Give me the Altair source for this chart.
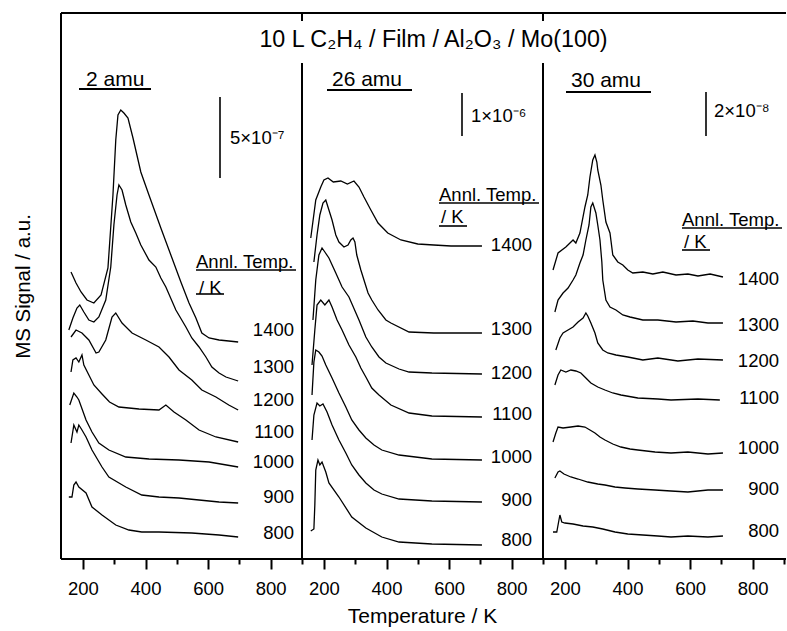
import altair as alt
import pandas as pd

FONT = "Liberation Sans"
ANNEAL = ["1400", "1300", "1200", "1100", "1000", "900", "800"]
MASSES = ["2 amu", "26 amu", "30 amu"]
TITLE = "10 L C₂H₄ / Film / Al₂O₃ / Mo(100)"
SCALE_TEXT = ["5×10⁻⁷", "1×10⁻⁶", "2×10⁻⁸"]
SCALE_TOP = [462, 466, 467]
SCALE_BOTTOM = [381, 423, 423]
X_TICKS = [200, 300, 400, 500, 600, 700, 800, 900]

# ---------------- 2 amu ----------------
A2_1400_T = [162, 178, 194, 213, 235, 258, 280, 296, 305, 312, 321, 331, 344, 360, 385, 411, 449, 481, 513, 539, 561, 580, 603, 635, 666, 696]
A2_1400_V = [287, 276, 267, 259, 256, 264, 291, 364, 419, 444, 449, 446, 441, 421, 387, 364, 331, 304, 277, 256, 241, 226, 221, 219, 218, 217]
A2_1300_T = [155, 168, 181, 190, 203, 219, 235, 251, 273, 289, 299, 309, 315, 325, 337, 353, 369, 385, 411, 433, 449, 465, 497, 529, 548, 571, 593, 612, 635, 657, 696]
A2_1300_V = [229, 241, 251, 254, 247, 239, 237, 242, 259, 292, 334, 364, 374, 369, 354, 337, 326, 314, 299, 292, 281, 272, 249, 232, 221, 212, 202, 192, 186, 182, 178]
A2_1200_T = [162, 178, 197, 219, 242, 251, 273, 293, 305, 325, 357, 401, 443, 475, 507, 548, 580, 625, 666, 696]
A2_1200_V = [222, 229, 226, 219, 206, 207, 219, 242, 246, 236, 226, 219, 212, 202, 189, 179, 169, 162, 154, 149]
A2_1100_T = [162, 168, 178, 187, 197, 203, 219, 235, 261, 285, 315, 379, 443, 465, 491, 529, 571, 625, 696]
A2_1100_V = [187, 199, 201, 197, 204, 194, 184, 174, 165, 157, 152, 150, 149, 154, 147, 139, 129, 122, 117]
A2_1000_T = [158, 171, 181, 187, 210, 229, 251, 283, 337, 411, 507, 603, 696]
A2_1000_V = [154, 166, 162, 159, 139, 127, 116, 109, 102, 100, 99, 97, 92]
A2_900_T = [162, 171, 181, 187, 197, 210, 229, 261, 283, 337, 388, 443, 507, 571, 635, 696]
A2_900_V = [116, 134, 127, 134, 129, 122, 109, 92, 82, 72, 64, 62, 61, 59, 57, 56]
A2_800_T = [155, 165, 171, 178, 187, 210, 229, 261, 305, 347, 388, 443, 548, 635, 696]
A2_800_V = [62, 62, 74, 77, 72, 66, 52, 44, 34, 29, 27, 27, 26, 24, 22]
A2_LABEL = [229, 192, 159, 127, 97, 62, 26]

# ---------------- 26 amu ----------------
A26_1400_T = [158, 174, 190, 200, 213, 230, 254, 275, 296, 312, 328, 350, 373, 404, 446, 500, 551, 606, 705]
A26_1400_V = [321, 359, 372, 379, 381, 377, 378, 375, 378, 372, 362, 349, 336, 326, 319, 315, 314, 313, 313]
A26_1300_T = [168, 178, 187, 197, 206, 216, 226, 238, 248, 264, 277, 286, 293, 299, 305, 318, 341, 353, 373, 398, 414, 472, 551, 705]
A26_1300_V = [297, 324, 344, 356, 359, 349, 339, 324, 317, 312, 314, 319, 321, 317, 304, 289, 266, 259, 249, 239, 236, 227, 226, 226]
A26_1200_T = [165, 174, 184, 194, 203, 216, 238, 258, 280, 312, 334, 353, 376, 398, 440, 472, 545, 705]
A26_1200_V = [239, 279, 304, 311, 307, 301, 286, 272, 262, 239, 222, 212, 202, 196, 190, 187, 186, 185]
A26_1100_T = [162, 171, 178, 190, 203, 216, 226, 242, 258, 280, 302, 318, 334, 353, 376, 414, 472, 545, 705]
A26_1100_V = [194, 229, 254, 259, 254, 259, 252, 239, 229, 214, 202, 191, 182, 171, 164, 154, 146, 143, 142]
A26_1000_T = [162, 168, 174, 184, 194, 206, 226, 248, 270, 289, 312, 334, 360, 385, 440, 545, 705]
A26_1000_V = [164, 197, 209, 207, 203, 194, 181, 166, 152, 139, 129, 121, 114, 109, 104, 100, 99]
A26_900_T = [162, 168, 178, 187, 197, 210, 226, 248, 270, 289, 312, 334, 360, 385, 440, 545, 705]
A26_900_V = [119, 144, 156, 153, 155, 147, 134, 119, 106, 94, 84, 76, 69, 65, 60, 58, 57]
A26_800_T = [158, 168, 171, 174, 181, 187, 194, 206, 216, 248, 289, 334, 385, 440, 545, 705]
A26_800_V = [28, 30, 54, 89, 99, 94, 97, 87, 76, 62, 42, 31, 22, 17, 15, 14]
A26_LABEL = [314, 230, 186, 145, 102, 59, 19]

# ---------------- 30 amu ----------------
A30_1400_T = [162, 178, 203, 226, 235, 248, 264, 273, 280, 289, 296, 302, 305, 315, 321, 331, 344, 353, 369, 385, 401, 417, 449, 481, 513, 555, 593, 625, 664, 705]
A30_1400_V = [289, 306, 312, 319, 316, 326, 352, 364, 382, 399, 404, 397, 389, 374, 359, 337, 326, 304, 297, 294, 289, 286, 287, 285, 287, 284, 285, 283, 285, 282]
A30_1300_T = [168, 178, 194, 210, 226, 235, 248, 258, 267, 277, 283, 289, 296, 299, 305, 312, 318, 321, 331, 344, 363, 385, 408, 449, 497, 555, 609, 657, 705]
A30_1300_V = [247, 259, 266, 271, 279, 284, 296, 304, 319, 334, 352, 356, 349, 346, 334, 319, 297, 279, 259, 252, 249, 244, 242, 239, 239, 237, 238, 236, 236]
A30_1200_T = [171, 184, 194, 210, 226, 242, 258, 267, 273, 283, 296, 305, 321, 337, 363, 401, 449, 497, 561, 625, 705]
A30_1200_V = [209, 221, 226, 229, 232, 237, 241, 246, 243, 236, 226, 216, 209, 206, 204, 202, 199, 201, 198, 200, 199]
A30_1100_T = [168, 178, 187, 203, 219, 235, 251, 267, 283, 305, 328, 353, 379, 433, 497, 539, 625, 695]
A30_1100_V = [174, 184, 189, 187, 189, 188, 186, 181, 176, 172, 169, 166, 164, 161, 160, 159, 160, 159]
A30_1000_T = [162, 171, 178, 194, 219, 242, 264, 280, 296, 312, 328, 353, 379, 408, 433, 488, 539, 593, 657, 705]
A30_1000_V = [117, 126, 132, 131, 132, 133, 132, 129, 126, 122, 119, 115, 112, 110, 109, 107, 106, 107, 105, 106]
A30_900_T = [168, 178, 184, 197, 219, 242, 273, 305, 328, 360, 392, 433, 488, 539, 593, 657, 705]
A30_900_V = [81, 87, 88, 85, 82, 80, 77, 75, 74, 72, 71, 70, 69, 68, 67, 69, 69]
A30_800_T = [162, 174, 181, 184, 190, 200, 226, 258, 289, 321, 360, 401, 449, 497, 539, 593, 657, 705]
A30_800_V = [27, 27, 39, 44, 37, 36, 35, 33, 32, 30, 27, 25, 24, 23, 22, 23, 22, 23]
A30_LABEL = [280, 234, 198, 161, 111, 70, 28]

CURVES = [
    [(A2_1400_T, A2_1400_V), (A2_1300_T, A2_1300_V), (A2_1200_T, A2_1200_V), (A2_1100_T, A2_1100_V),
     (A2_1000_T, A2_1000_V), (A2_900_T, A2_900_V), (A2_800_T, A2_800_V)],
    [(A26_1400_T, A26_1400_V), (A26_1300_T, A26_1300_V), (A26_1200_T, A26_1200_V), (A26_1100_T, A26_1100_V),
     (A26_1000_T, A26_1000_V), (A26_900_T, A26_900_V), (A26_800_T, A26_800_V)],
    [(A30_1400_T, A30_1400_V), (A30_1300_T, A30_1300_V), (A30_1200_T, A30_1200_V), (A30_1100_T, A30_1100_V),
     (A30_1000_T, A30_1000_V), (A30_900_T, A30_900_V), (A30_800_T, A30_800_V)],
]
LABELS = [A2_LABEL, A26_LABEL, A30_LABEL]

# ---------------- layout / style ----------------
W, H = 241, 546
LAYOUT = [
    dict(mass=(25, 67), mul=(18, 90, 76), bar=159, stext=(169, 125), annl=(135, 249), aul=(135, 235, 257),
         k=(138, 275), kul=(135, 163, 281), lbl=233),
    dict(mass=(30, 67), mul=(25, 110, 77), bar=160, stext=(169, 103), annl=(137, 182), aul=(137, 237, 190),
         k=(139, 204), kul=(137, 165, 213), lbl=230),
    dict(mass=(28, 68), mul=(23, 108, 79), bar=163, stext=(171, 98), annl=(139, 207), aul=(139, 239, 215),
         k=(141, 229), kul=(139, 167, 237), lbl=236),
]
ONE = pd.DataFrame({"k": [0]})


def txt(s, px, py, size, align="left"):
    return alt.Chart(ONE).mark_text(text=s, font=FONT, fontSize=size, align=align, baseline="middle",
                                    color="black").encode(x=alt.value(px), y=alt.value(py))


def hline(x1, x2, py, w=2.0):
    return alt.Chart(ONE).mark_rule(color="black", strokeWidth=w).encode(
        x=alt.value(x1), x2=alt.value(x2), y=alt.value(py))


def vline(px, y1, y2, w=2.0):
    return alt.Chart(ONE).mark_rule(color="black", strokeWidth=w).encode(
        x=alt.value(px), y=alt.value(y1), y2=alt.value(y2))


XS = alt.Scale(domain=[130, 900], nice=False, zero=False)
YS = alt.Scale(domain=[0, H], nice=False, zero=False)
X_AXIS = alt.Axis(
    values=X_TICKS,
    labelExpr="datum.value % 200 === 0 ? datum.label : ''",
    tickSize={"condition": {"test": "datum.value % 200 === 0", "value": 10}, "value": 5},
    tickWidth=2, tickColor="black", domain=False, grid=False,
    labelFont=FONT, labelFontSize=18.5, labelColor="black", labelPadding=10,
    labelOverlap=False, labelFlush=False,
)


def panel(i):
    rows = []
    for name, (ts, vs) in zip(ANNEAL, CURVES[i]):
        for j, (t, v) in enumerate(zip(ts, vs)):
            rows.append({"anneal": name, "i": j, "T": t, "v": v})
    df = pd.DataFrame(rows)
    if i == 0:
        yax = alt.Axis(title="MS Signal / a.u.", labels=False, ticks=False, domain=False, grid=False,
                       titleFont=FONT, titleFontSize=20.5, titleFontWeight="normal", titleColor="black",
                       titlePadding=28)
        ytitle = "MS Signal / a.u."
    else:
        yax = None
        ytitle = None
    Y = alt.Y("v:Q", scale=YS, axis=yax, title=ytitle)
    L = LAYOUT[i]

    lines = alt.Chart(df).mark_line(color="black", strokeWidth=1.3).encode(
        x=alt.X("T:Q", scale=XS, axis=X_AXIS, title=None), y=Y,
        detail="anneal:N", order="i:Q")

    lab_df = pd.DataFrame({"anneal": ANNEAL, "v": LABELS[i]})
    labels = alt.Chart(lab_df).mark_text(font=FONT, fontSize=18.5, align="right", baseline="middle",
                                         color="black").encode(
        x=alt.value(L["lbl"]), y=Y, text="anneal:N")

    bar_df = pd.DataFrame({"v": [SCALE_TOP[i]], "v2": [SCALE_BOTTOM[i]]})
    bar = alt.Chart(bar_df).mark_rule(color="black", strokeWidth=1.6).encode(
        x=alt.value(L["bar"]), y=Y, y2=alt.Y2("v2:Q", title=ytitle))

    layers = [lines, labels, bar,
              txt(MASSES[i], L["mass"][0], L["mass"][1], 21),
              hline(L["mul"][0], L["mul"][1], L["mul"][2], 1.8),
              txt(SCALE_TEXT[i], L["stext"][0], L["stext"][1], 18.5),
              txt("Annl. Temp.", L["annl"][0], L["annl"][1], 18.5),
              hline(L["aul"][0], L["aul"][1], L["aul"][2], 1.6),
              txt("/ K", L["k"][0], L["k"][1], 18.5),
              hline(L["kul"][0], L["kul"][1], L["kul"][2], 1.6)]

    right = W + 2 if i == 2 else W
    layers += [hline(0, right, 0), hline(0, right, H)]
    if i == 0:
        layers += [vline(0, 0, H)]
    else:
        layers += [vline(0, 0, 8), vline(0, 50, H)]
    if i == 1:
        layers += [txt(TITLE, 131.5, 27, 23.3, align="center"),
                   txt("Temperature / K", W / 2, 604, 21, align="center")]
    return alt.layer(*layers).properties(width=W, height=H)


chart = alt.hconcat(panel(0), panel(1), panel(2), spacing=0, bounds="flush").properties(
    padding={"left": 13, "top": 12, "right": 0, "bottom": 0}
).configure_view(stroke=None)

chart.save("out.html", embed_options={"renderer": "svg", "actions": False})
